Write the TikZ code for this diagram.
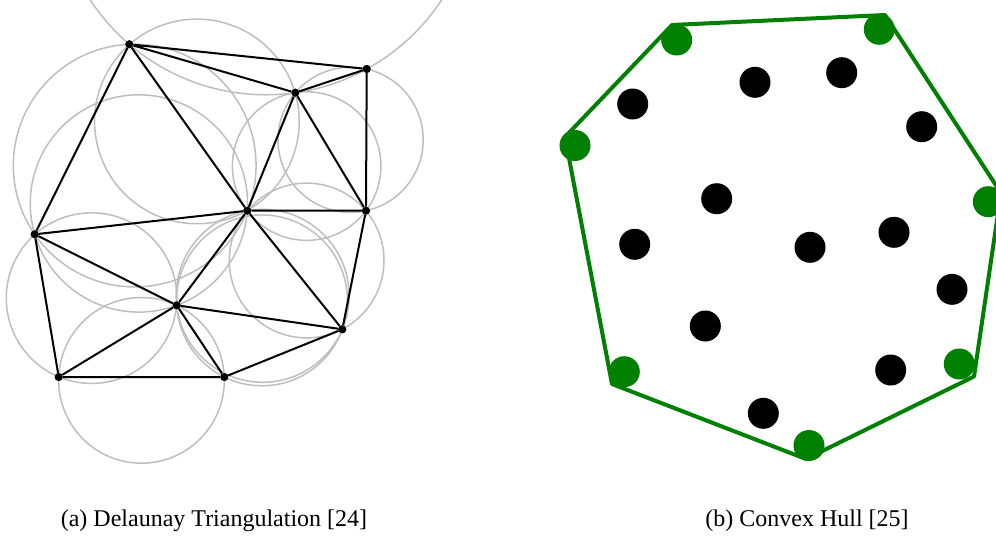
\documentclass[tikz,border=0pt]{standalone}
\usepackage{fontspec}
\setmainfont{Liberation Serif}
\usepackage{xcolor}
\usepackage{tikz}
\usetikzlibrary{calc}
\definecolor{circgray}{HTML}{BEBEBE}
\definecolor{hullgreen}{HTML}{008000}

\begin{document}
\begin{tikzpicture}[x=1pt,y=-1pt]
\tikzstyle{vtx}=[circle,fill=black,inner sep=0pt,minimum size=8pt]
\tikzstyle{edge}=[line width=2pt]
\tikzstyle{circ}=[draw=circgray,line width=1.5pt]
\tikzstyle{pt}=[circle,fill=black,inner sep=0pt,minimum size=31pt]
\tikzstyle{hullpt}=[pt,fill=hullgreen]
\tikzstyle{hull}=[draw=hullgreen,line width=4pt,line join=round]
\tikzstyle{caption}=[anchor=base,font=\fontsize{24}{28}\selectfont]
\useasboundingbox (0,0) rectangle (996,536);
\clip (0,0) rectangle (996,536);
% (a) Delaunay triangulation
\node[vtx] (A) at (129.3,44.3) {};
\node[vtx] (B) at (366.7,69) {};
\node[vtx] (C) at (295.3,92.7) {};
\node[vtx] (D) at (247.3,210.7) {};
\node[vtx] (E) at (366,210.7) {};
\node[vtx] (F) at (34.7,234.3) {};
\node[vtx] (G) at (176.7,305.3) {};
\node[vtx] (H) at (342.3,329.3) {};
\node[vtx] (I) at (58.7,377) {};
\node[vtx] (J) at (224.3,377) {};
% circumcircles
\foreach \u/\v/\w in {A/B/C,A/C/D,A/D/F,B/C/E,C/D/E,D/F/G,D/G/H,D/E/H,F/G/I,G/I/J,G/J/H}{
  \coordinate (m1) at ($(\u)!0.5!(\v)$);
  \coordinate (n1) at ($(m1)!1!90:(\v)$);
  \coordinate (m2) at ($(\v)!0.5!(\w)$);
  \coordinate (n2) at ($(m2)!1!90:(\w)$);
  \coordinate (cc) at (intersection of m1--n1 and m2--n2);
  \draw[circ] let \p1=($(\u)-(cc)$) in (cc) circle[radius={veclen(\x1,\y1)}];
}
\draw[edge] (A)--(B) (A)--(C) (A)--(D) (A)--(F);
\draw[edge] (C)--(B) (B)--(E) (C)--(D) (C)--(E) (D)--(E);
\draw[edge] (D)--(F) (D)--(G) (D)--(H) (E)--(H);
\draw[edge] (F)--(G) (F)--(I) (G)--(I) (G)--(J) (G)--(H);
\draw[edge] (I)--(J) (J)--(H);
\foreach \n in {A,B,C,D,E,F,G,H,I,J} \node[vtx] at (\n) {};
% (b) Convex hull
\coordinate (h1) at (672,25);
\coordinate (h2) at (885,15);
\coordinate (h3) at (1001,193);
\coordinate (h4) at (974,376.5);
\coordinate (h5) at (806,459);
\coordinate (h6) at (612,384);
\coordinate (h7) at (565,137);
\draw[hull] (h1)--(h2)--(h3)--(h4)--(h5)--(h6)--(h7)--cycle;
\node[hullpt] (g1) at (676.7,40) {};
\node[hullpt] (g2) at (879.3,29.3) {};
\node[hullpt] (g3) at (988.3,201.7) {};
\node[hullpt] (g4) at (959.3,364) {};
\node[hullpt] (g5) at (809,445.5) {};
\node[hullpt] (g6) at (624.3,371.7) {};
\node[hullpt] (g7) at (575,145.5) {};
\foreach \x/\y [count=\i] in {632.7/104,755/82.3,841.7/72.7,921.7/126.7,716.7/198.7,634.7/244.3,810/247.3,894/232.3,952/289.3,705.3/326,890.7/370,763.3/413.3}
  \node[pt] (p\i) at (\x,\y) {};
% captions
\node[caption] (capa) at (214,526) {(a) Delaunay Triangulation [24]};
\node[caption] (capb) at (807,526) {(b) Convex Hull [25]};
\end{tikzpicture}
\end{document}
